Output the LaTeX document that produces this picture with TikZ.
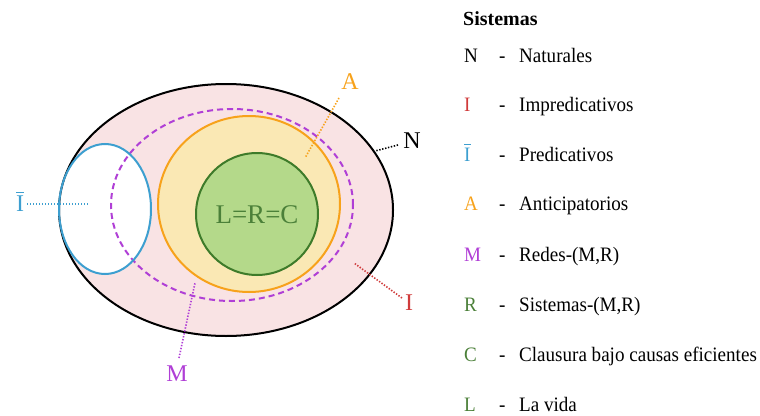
\documentclass[tikz,border=0pt]{standalone}
\usepackage{amsmath}
\usepackage{fontspec}
\setmainfont{Liberation Serif}
\newfontfamily\legfont{Liberation Serif}[FakeStretch=0.93]
\usetikzlibrary{shapes.geometric}
\definecolor{pinkfill}{HTML}{F9E3E4}
\definecolor{orfill}{HTML}{FAE8B4}
\definecolor{orline}{HTML}{F7A21B}
\definecolor{grfill}{HTML}{B4D98A}
\definecolor{grline}{HTML}{3E7B2A}
\definecolor{grtext}{HTML}{4B8039}
\definecolor{purp}{HTML}{B03FD6}
\definecolor{blu}{HTML}{3D9FD0}
\definecolor{redc}{HTML}{D03B3B}
\newcommand{\ibar}{$\overline{\text{I}}$}
\tikzset{
  region/.style={ellipse, inner sep=0pt, line width=2pt},
  leader/.style={line width=1.6pt, dash pattern=on 1.4pt off 1.6pt},
  biglabel/.style={inner sep=0pt, font=\fontsize{24}{24}\selectfont},
  legsym/.style={inner sep=0pt, anchor=base west, font=\legfont\fontsize{20.5}{21}\selectfont},
}
\begin{document}
\begin{tikzpicture}[x=1pt,y=-1pt]
\useasboundingbox (0,0) rectangle (760,415);
% regions
\node[region, fill=pinkfill, minimum width=334pt, minimum height=252pt] (N) at (226,210) {};
\node[region, fill=white, minimum width=92pt, minimum height=130pt] (Ifill) at (105,209) {};
\node[region, draw=purp, dash pattern=on 6pt off 4pt, minimum width=242pt, minimum height=192pt] (M) at (232,205) {};
\node[region, draw=orline, fill=orfill, minimum width=182pt, minimum height=176pt] (A) at (249,204) {};
\node[circle, inner sep=0pt, line width=2pt, draw=grline, fill=grfill, minimum size=122pt] (G) at (257,214) {};
\node[inner sep=0pt, text=grtext, font=\fontsize{27}{27}\selectfont] (LRC) at (257,215) {L=R=C};
\node[region, draw=black, minimum width=334pt, minimum height=252pt] (Nline) at (226,210) {};
\node[region, draw=blu, minimum width=92pt, minimum height=130pt] (Ibar) at (105,209) {};
% labels
\node[biglabel, text=orline] (lA) at (350,82) {A};
\node[biglabel, text=black] (lN) at (412,141) {N};
\node[biglabel, text=redc] (lI) at (409,303) {I};
\node[biglabel, text=purp] (lM) at (177,374) {M};
\node[biglabel, text=blu] (lIb) at (20,201) {\ibar};
% leader lines
\coordinate (a1) at (339,98);  \coordinate (a2) at (305,158);
\coordinate (n1) at (398,145); \coordinate (n2) at (375,151);
\coordinate (i1) at (402,298); \coordinate (i2) at (354,263);
\coordinate (m1) at (179,358); \coordinate (m2) at (195,283);
\coordinate (b1) at (27,204);  \coordinate (b2) at (88,204);
\draw[leader, orline] (a1) -- (a2);
\draw[leader, black] (n1) -- (n2);
\draw[leader, redc] (i1) -- (i2);
\draw[leader, purp] (m1) -- (m2);
\draw[leader, blu] (b1) -- (b2);
% legend
\node[inner sep=0pt, anchor=base west, font=\fontsize{20}{20}\selectfont\bfseries] (title) at (463,25) {Sistemas};
\foreach \s/\c/\t/\y/\n in {N/black/Naturales/62/1, I/redc/Impredicativos/111/2, \ibar/blu/Predicativos/161/3, A/orline/Anticipatorios/210/4, M/purp/{Redes-(M,R)}/261/5, R/grtext/{Sistemas-(M,R)}/311/6, C/grtext/Clausura bajo causas eficientes/361/7, L/grtext/La vida/411/8}{
  \node[legsym, text=\c] (s\n) at (464,\y) {\s};
  \node[legsym] (d\n) at (499,\y) {-};
  \node[legsym] (t\n) at (519,\y) {\t};
}
\end{tikzpicture}
\end{document}
